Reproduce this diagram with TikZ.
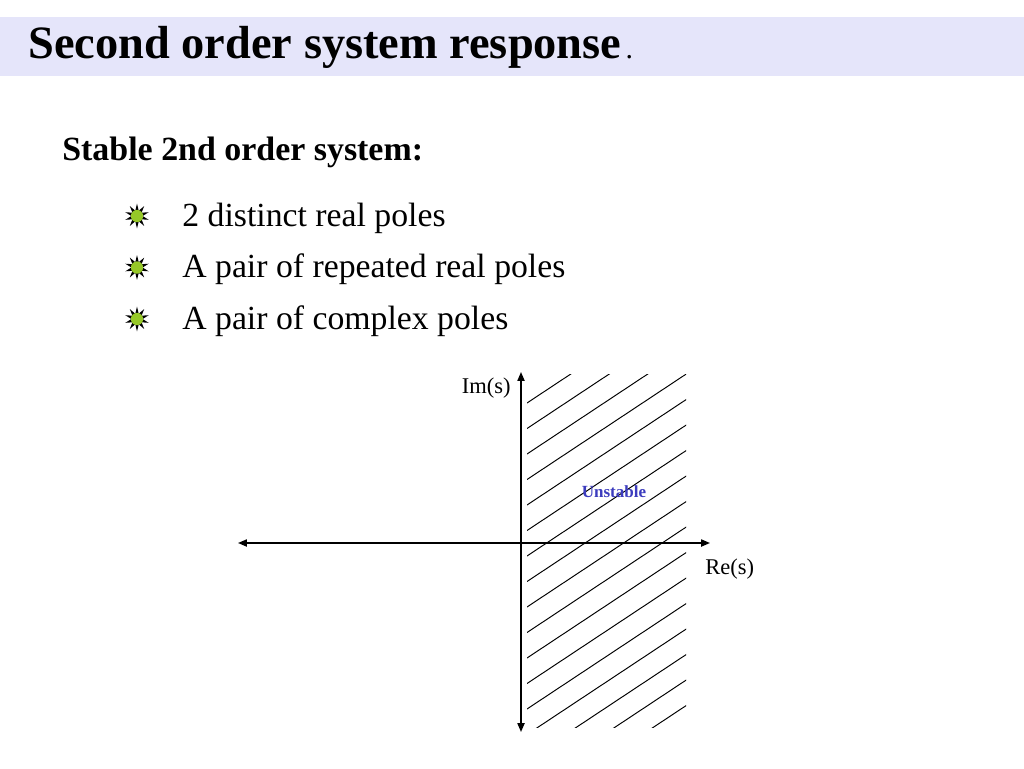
\documentclass[tikz,border=0pt]{standalone}
\usepackage{fontspec}
\setmainfont{Liberation Serif}
\usetikzlibrary{shapes,arrows.meta,positioning,calc}
\definecolor{bandcol}{RGB}{229,229,250}
\definecolor{starcol}{RGB}{150,200,40}
\definecolor{labelblue}{RGB}{60,60,190}

\begin{document}
\begin{tikzpicture}[
  x=0.02cm, y=-0.02cm,
  title/.style={font=\fontsize{26.4}{30}\selectfont\bfseries, anchor=base west, inner sep=0},
  head/.style={font=\fontsize{19.3}{23}\selectfont\bfseries, anchor=base west, inner sep=0},
  item/.style={font=\fontsize{19.2}{23}\selectfont, anchor=base west, inner sep=0},
  axlabel/.style={font=\fontsize{12.8}{15}\selectfont, inner sep=0},
  sunstar/.style={star, star points=10, star point ratio=2.2, fill=black,
                  minimum size=14, inner sep=0},
  axis/.style={line width=0.9pt, {Triangle[length=5pt,width=4pt]}-{Triangle[length=5pt,width=4pt]}},
  hatch/.style={line width=0.55pt}
]
  \useasboundingbox (0,0) rectangle (1024,768);
  \fill[bandcol] (0,17) rectangle (1024,76);

  % heading text
  \node[title] (ttl) at (28,58) {Second order system response};
  \node[anchor=base west, inner sep=0, font=\fontsize{17}{19}\selectfont] (dot) at ([xshift=2]ttl.base east) {.};
  \node[head] (sub) at (62,160) {Stable 2nd order system:};

  % bullet list
  \foreach \txt [count=\i] in {2 distinct real poles, A pair of repeated real poles, A pair of complex poles}{
    \node[sunstar] (b\i) at (137,{216+51.5*(\i-1)}) {};
    \node[circle, fill=starcol, minimum size=7, inner sep=0] (c\i) at (b\i) {};
    \node[item] (t\i) at (182,{226+51.5*(\i-1)}) {\txt};
  }

  % s-plane
  \coordinate (left)  at (238,543);
  \coordinate (right) at (710,543);
  \coordinate (top)   at (521,372);
  \coordinate (bot)   at (521,732);
  \begin{scope}
    \clip (527,374) rectangle (686,727);
    \foreach \k in {0,...,17}
      \draw[hatch] (527,{403+25.5*\k}) -- ++(160,-106);
  \end{scope}
  \draw[axis] (left) -- (right);
  \draw[axis] (top) -- (bot);

  \node[axlabel, anchor=base east] (im) at (511,393) {Im(s)};
  \node[axlabel, anchor=base west] (re) at (705,574) {Re(s)};
  \node[font=\fontsize{9.7}{11}\selectfont\bfseries, text=labelblue, inner sep=0] (uns) at (614,492) {Unstable};
\end{tikzpicture}
\end{document}
